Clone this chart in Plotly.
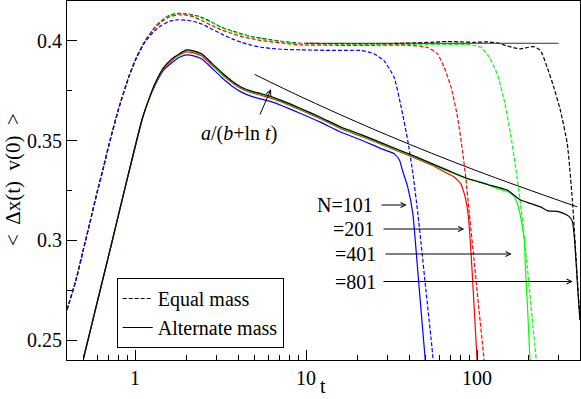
import math
import plotly.graph_objects as go

# ---------------- data ----------------
# Equal mass (dashed)
eq_t_common = [0.4, 0.45, 0.5, 0.55, 0.6, 0.65, 0.715, 0.8, 0.915, 1.02]
eq_v_common = [0.2652, 0.2797, 0.2958, 0.3104, 0.3241, 0.3357, 0.3502, 0.3657, 0.3815, 0.3917]

eq801_t = eq_t_common + [1.144, 1.3, 1.43, 1.6, 1.79, 2.0, 2.2, 2.45, 2.8, 3.2, 3.7, 4.19, 4.8, 5.48, 6.3, 7.17,
                         8.2, 9.37, 12, 15, 20, 27, 35, 43, 54, 67, 80, 96, 115, 131, 150, 165, 180, 200, 215,
                         235, 257, 281, 307, 337, 361, 380, 400]
eq801_v = eq_v_common + [0.4000, 0.4068, 0.4103, 0.4129, 0.4138, 0.4136, 0.4130, 0.4118, 0.4095, 0.4068, 0.405,
                         0.4035, 0.4022, 0.4013, 0.4005, 0.3998, 0.3992, 0.3988, 0.3987, 0.3986, 0.3985, 0.3985,
                         0.3988, 0.399, 0.3993, 0.3997, 0.3995, 0.3993, 0.3995, 0.399, 0.3975, 0.3965, 0.396,
                         0.3968, 0.3971, 0.3952, 0.3868, 0.3768, 0.3652, 0.3485, 0.3202, 0.29, 0.26]

eq401_t = eq_t_common + [1.144, 1.3, 1.43, 1.6, 1.79, 2.0, 2.2, 2.45, 2.8, 3.2, 3.7, 4.19, 4.8, 5.48, 6.3, 7.17,
                         8.2, 9.37, 15, 30, 60, 90, 105.5, 118, 131, 144, 157, 168, 180, 188, 197, 210, 222]
eq401_v = eq_v_common + [0.4000, 0.4066, 0.4101, 0.4127, 0.4136, 0.4134, 0.4128, 0.4115, 0.4092, 0.4066, 0.4048,
                         0.4033, 0.402, 0.4011, 0.4003, 0.3996, 0.399, 0.3986, 0.3983, 0.3982, 0.3982, 0.3982,
                         0.3968, 0.3918, 0.3835, 0.3702, 0.3535, 0.3368, 0.3177, 0.3027, 0.2862, 0.2612, 0.24]

eq201_t = eq_t_common + [1.144, 1.3, 1.43, 1.6, 1.79, 2.0, 2.2, 2.45, 2.8, 3.2, 3.7, 4.19, 4.8, 5.48, 6.3, 7.17,
                         8.2, 9.37, 15, 25, 40, 51, 58.7, 64.2, 70.5, 76.9, 82.1, 86, 89.6, 96, 102.5, 110]
eq201_v = eq_v_common + [0.3998, 0.4062, 0.4096, 0.4121, 0.4131, 0.4129, 0.4121, 0.4102, 0.4078, 0.4055, 0.4037,
                         0.4022, 0.4011, 0.4002, 0.3995, 0.399, 0.3984, 0.398, 0.3978, 0.3978, 0.3978, 0.3968,
                         0.3935, 0.3868, 0.3768, 0.3618, 0.3452, 0.3311, 0.3154, 0.2904, 0.2656, 0.24]

eq101_t = eq_t_common + [1.144, 1.3, 1.43, 1.6, 1.79, 2.0, 2.2, 2.45, 2.8, 3.2, 3.7, 4.19, 4.8, 5.48, 6.3, 7.17,
                         8.2, 9.37, 14.6, 21, 25, 28.6, 32.7, 36, 39.3, 42.1, 45, 47, 50.2, 53.9, 55.4]
eq101_v = eq_v_common + [0.3995, 0.405, 0.4078, 0.4099, 0.4106, 0.4104, 0.4097, 0.4085, 0.406, 0.4035, 0.401,
                         0.3993, 0.3978, 0.3968, 0.3962, 0.3958, 0.3956, 0.3955, 0.3952, 0.3952, 0.3935, 0.390,
                         0.3818, 0.3668, 0.3502, 0.3339, 0.3139, 0.299, 0.2753, 0.2503, 0.24]

# Alternate mass (solid)
al_t_common = [0.5, 0.55, 0.6, 0.65, 0.732, 0.8, 0.9, 1.0, 1.1, 1.2]
al_v_common = [0.241, 0.2555, 0.2688, 0.2809, 0.299, 0.3128, 0.3308, 0.3468, 0.3607, 0.3703]

al801_t = al_t_common + [1.31, 1.465, 1.64, 1.82, 2.0, 2.2, 2.45, 2.8, 3.2, 3.7, 4.19, 4.8, 5.48, 6.3, 7.17, 9.37,
                         12.3, 16, 21, 27.4, 43, 67, 88, 115, 150, 165, 180, 205, 235, 260, 294, 320, 345, 361,
                         372, 382, 392, 400]
al801_v = al_v_common + [0.3787, 0.3865, 0.391, 0.3936, 0.3955, 0.395, 0.3935, 0.389, 0.3843, 0.3798, 0.3768,
                         0.3748, 0.3735, 0.372, 0.3702, 0.366, 0.3615, 0.3568, 0.353, 0.349, 0.3422, 0.3352, 0.331,
                         0.328, 0.3252, 0.3226, 0.3202, 0.3185, 0.3168, 0.3148, 0.3145, 0.3135, 0.312, 0.3095,
                         0.300, 0.285, 0.27, 0.26]

al401_t = al_t_common + [1.31, 1.465, 1.64, 1.82, 2.0, 2.2, 2.45, 2.8, 3.2, 3.7, 4.19, 4.8, 5.48, 6.3, 7.17, 9.37,
                         12.3, 16, 21, 27.4, 43, 67, 88, 105, 131, 150, 164, 172, 178, 184, 189, 192, 197, 204]
al401_v = al_v_common + [0.3785, 0.3862, 0.3907, 0.3932, 0.395, 0.3946, 0.3931, 0.3886, 0.3839, 0.3794, 0.3764,
                         0.3744, 0.3731, 0.3716, 0.3698, 0.3656, 0.3611, 0.3564, 0.3526, 0.3486, 0.3418, 0.3348,
                         0.3308, 0.3293, 0.326, 0.3245, 0.3222, 0.3185, 0.3135, 0.307, 0.3002, 0.2852, 0.2677, 0.24]

al201_t = al_t_common + [1.31, 1.465, 1.64, 1.82, 2.0, 2.2, 2.45, 2.8, 3.2, 3.7, 4.19, 4.8, 5.48, 6.3, 7.17, 9.37,
                         12.3, 16, 21, 27.4, 43, 55, 67, 73.5, 80.6, 83.5, 86, 88.8, 92, 96, 100]
al201_v = al_v_common + [0.3783, 0.3858, 0.3902, 0.3929, 0.3945, 0.394, 0.3925, 0.388, 0.3834, 0.379, 0.376, 0.374,
                         0.3727, 0.3712, 0.3694, 0.3652, 0.3607, 0.356, 0.3522, 0.3482, 0.3414, 0.3375, 0.3335,
                         0.3318, 0.3282, 0.3244, 0.3202, 0.3127, 0.2952, 0.2677, 0.24]

al101_t = al_t_common + [1.31, 1.465, 1.64, 1.82, 2.0, 2.2, 2.45, 2.8, 3.2, 3.7, 4.19, 4.8, 5.48, 6.3, 7.17, 9.37,
                         12.3, 16, 21, 27.4, 32.7, 35.2, 36.6, 39.3, 42.1, 45, 47, 49.8]
al101_v = al_v_common + [0.3778, 0.3852, 0.389, 0.3918, 0.393, 0.3925, 0.391, 0.3865, 0.3818, 0.3773, 0.3743,
                         0.3722, 0.3708, 0.3694, 0.3676, 0.3635, 0.359, 0.3542, 0.3503, 0.346, 0.3435, 0.3402,
                         0.3352, 0.3268, 0.3135, 0.2847, 0.2654, 0.24]

# guide lines
fit_t = [5, 10, 30, 100, 385]
fit_v = [0.3832, 0.3708, 0.3527, 0.3348, 0.3168]
plateau_t = [10, 300]
plateau_v = [0.3988, 0.3988]

n_labels = ["N=101", "=201", "=401", "=801"]
colors = ["#0000ff", "#ff0000", "#00ff00", "#000000"]

# ---------------- layout geometry ----------------
W, H = 581, 399
L, R, T, B = 67, 1, 1, 39
PW, PH = W - L - R, H - T - B
FONT = "Liberation Serif"


def xp(px):
    return (px - L) / PW


def yp(py):
    return (H - B - py) / PH


fig = go.Figure()
eq_sets = [(eq101_t, eq101_v), (eq201_t, eq201_v), (eq401_t, eq401_v), (eq801_t, eq801_v)]
al_sets = [(al101_t, al101_v), (al201_t, al201_v), (al401_t, al401_v), (al801_t, al801_v)]
# dashed: black first so that blue ends on top
for i in [3, 2, 1, 0]:
    t, v = eq_sets[i]
    fig.add_trace(go.Scatter(x=t, y=v, mode="lines", showlegend=False,
                             line=dict(color=colors[i], width=1.2, dash="4px,2px", shape="spline",
                                       smoothing=0.5)))
for i in [0, 1, 2, 3]:
    t, v = al_sets[i]
    fig.add_trace(go.Scatter(x=t, y=v, mode="lines", showlegend=False,
                             line=dict(color=colors[i], width=1.2, shape="spline", smoothing=0.5)))
fig.add_trace(go.Scatter(x=fit_t, y=fit_v, mode="lines", showlegend=False,
                         line=dict(color="black", width=1, shape="spline")))
fig.add_trace(go.Scatter(x=plateau_t, y=plateau_v, mode="lines", showlegend=False,
                         line=dict(color="#333333", width=1)))
# legend entries
fig.add_trace(go.Scatter(x=[None], y=[None], mode="lines", name="Equal mass",
                         line=dict(color="black", width=1, dash="4px,2px")))
fig.add_trace(go.Scatter(x=[None], y=[None], mode="lines", name="Alternate mass",
                         line=dict(color="black", width=1)))

tf = dict(family=FONT, size=20, color="black")
ann = []
# axis titles
ann.append(dict(xref="paper", yref="paper", x=xp(323), y=yp(399), text="t", showarrow=False,
                xanchor="center", yanchor="bottom", font=tf))
ann.append(dict(xref="paper", yref="paper", x=xp(13), y=yp(180),
                text="&lt;&nbsp; Δx(t)&nbsp; v(0)&nbsp; &gt;", showarrow=False,
                xanchor="center", yanchor="middle", textangle=-90, font=dict(family=FONT, size=21, color="black")))
# fit label + arrow
ann.append(dict(xref="paper", yref="paper", x=xp(238.5), y=yp(134), text="<i>a</i>/(<i>b</i>+ln <i>t</i>)",
                showarrow=False, xanchor="center", yanchor="middle", font=tf))
ann.append(dict(xref="paper", yref="paper", x=xp(271), y=yp(89.3), axref="pixel", ayref="pixel",
                ax=259.3 - 271, ay=116 - 89.3, text="", showarrow=True, arrowhead=5, arrowsize=1,
                arrowwidth=1, arrowcolor="black"))
# N labels with arrows
lab_pos = [(375, 205, 380, 406.7), (376, 229, 382, 464.3), (378, 254, 384, 511.7), (378, 281.5, 382, 572.7)]
for txt, (tx, ty, a0, a1) in zip(n_labels, lab_pos):
    ann.append(dict(xref="paper", yref="paper", x=xp(tx), y=yp(ty), text=txt, showarrow=False,
                    xanchor="right", yanchor="middle", font=tf))
    ann.append(dict(xref="paper", yref="paper", x=xp(a1), y=yp(ty), axref="pixel", ayref="pixel",
                    ax=a0 - a1, ay=0, text="", showarrow=True, arrowhead=5, arrowsize=1,
                    arrowwidth=1, arrowcolor="black"))

fig.update_layout(
    width=W, height=H, margin=dict(l=L, r=R, t=T, b=B, autoexpand=False),
    paper_bgcolor="white", plot_bgcolor="white",
    font=tf,
    showlegend=True,
    legend=dict(x=xp(116.7), y=yp(278), xanchor="left", yanchor="top", bgcolor="white",
                bordercolor="black", borderwidth=1, font=tf, tracegroupgap=0, itemwidth=30),
    annotations=ann,
)
fig.update_xaxes(type="log", range=[math.log10(0.4), math.log10(400)], dtick=1, automargin=False,
                 showgrid=False, zeroline=False, showline=True, linecolor="black", linewidth=1, mirror=True,
                 ticks="inside", ticklen=10, tickcolor="black", tickfont=tf,
                 minor=dict(ticks="inside", ticklen=5, dtick="D1", tickcolor="black", showgrid=False))
fig.update_yaxes(range=[0.24, 0.42], dtick=0.05, automargin=False, showgrid=False, zeroline=False, showline=True,
                 linecolor="black", linewidth=1, mirror=True, ticks="inside", ticklen=10, tickcolor="black",
                 tickfont=tf,
                 minor=dict(ticks="inside", ticklen=5, dtick=0.025, tickcolor="black", showgrid=False))

fig.write_html("out.html", config={"displayModeBar": False},
               post_script="document.body.style.margin='0px';")
